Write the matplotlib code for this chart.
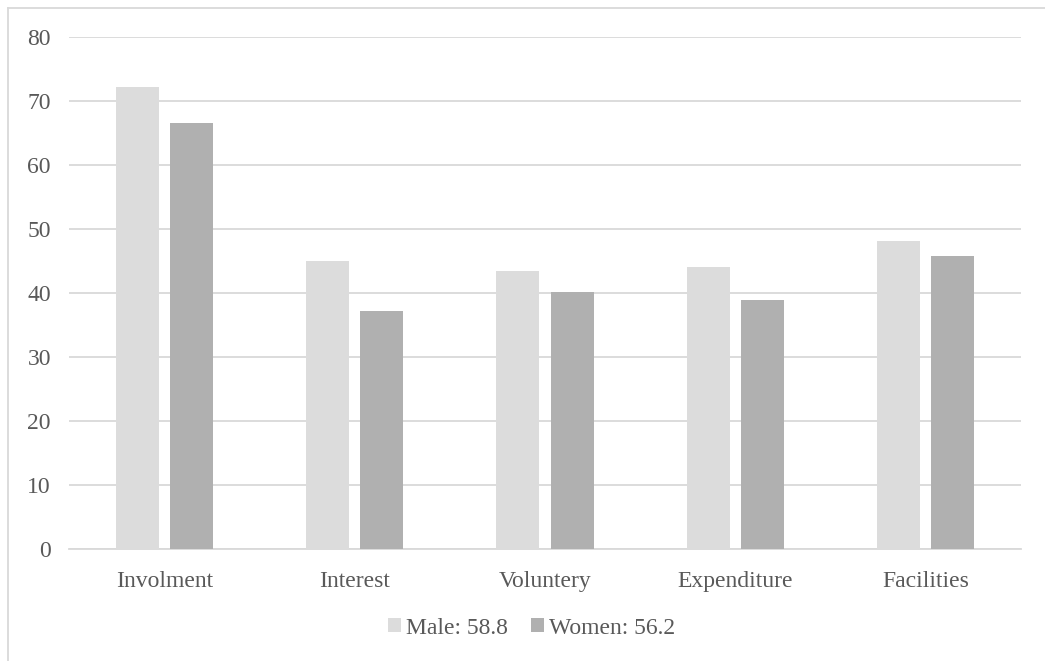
import matplotlib
matplotlib.use('Agg')
import matplotlib.pyplot as plt
import numpy as np
from matplotlib.lines import Line2D

categories = ['Involment', 'Interest', 'Voluntery', 'Expenditure', 'Facilities']
male = [72.1, 45.0, 43.4, 44.0, 48.1]
women = [66.5, 37.1, 40.1, 38.9, 45.7]
male_label = 'Male: 58.8'
women_label = 'Women: 56.2'

plt.rcParams['font.family'] = ['Liberation Serif', 'DejaVu Serif']

fig = plt.figure(figsize=(10.45, 6.61), dpi=100)
ax = fig.add_axes([69 / 1045, 1 - 548.7 / 661, 952 / 1045, 512 / 661])

x = np.arange(len(categories))
w = 0.226
off = 0.142
ax.bar(x - off, male, w, color='#dcdcdc', label=male_label, zorder=3)
ax.bar(x + off, women, w, color='#b0b0b0', label=women_label, zorder=3)

ax.set_xlim(-0.5, len(categories) - 0.5)
ax.set_ylim(0, 80)
ax.set_yticks(range(0, 81, 10))
ax.set_xticks(x)
ax.set_xticklabels(categories)
ax.grid(axis='y', color='#d9d9d9', linewidth=1.3, zorder=0)
ax.tick_params(length=0, labelsize=17, labelcolor='#595959')
ax.tick_params(axis='y', pad=13)
ax.tick_params(axis='x', pad=16)
for s in ['top', 'right', 'left']:
    ax.spines[s].set_visible(False)
ax.spines['bottom'].set_color('#d9d9d9')
ax.spines['bottom'].set_linewidth(1.3)

leg = ax.legend(loc='center', bbox_to_anchor=(0.486, -0.155), ncol=2, frameon=False,
                fontsize=17, handlelength=0.55, handleheight=0.55, handletextpad=0.2,
                columnspacing=1.0, labelcolor='#595959')

# chart area border (left and top edges)
fig.add_artist(Line2D([7.5 / 1045, 7.5 / 1045], [0, 1 - 7.5 / 661], color='#d9d9d9', lw=1.3))
fig.add_artist(Line2D([7.5 / 1045, 1], [1 - 7.5 / 661, 1 - 7.5 / 661], color='#d9d9d9', lw=1.3))

fig.savefig('out.png', dpi=100)
